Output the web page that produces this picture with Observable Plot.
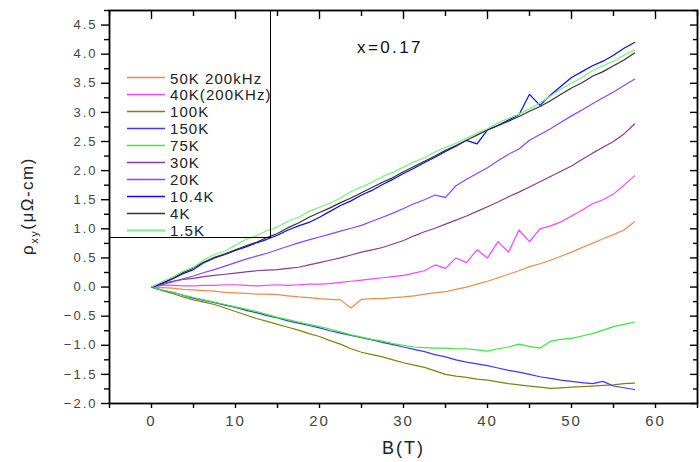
<!DOCTYPE html>
<html><head><meta charset="utf-8">
<script src="https://cdn.jsdelivr.net/npm/d3@7"></script>
<script src="https://cdn.jsdelivr.net/npm/@observablehq/plot@0.6"></script>
<style>
body{margin:0;background:#fff;font-family:"Liberation Sans",Arial,sans-serif;}
#wrap{position:relative;width:700px;height:462px;overflow:hidden;}
#wrap > svg{position:absolute;left:0;top:0;}
.chart g[aria-label="y-axis tick label"] text{letter-spacing:2px;}
.chart g[aria-label="x-axis tick label"] text{letter-spacing:2px;}
#legend{position:absolute;left:109px;top:10px;width:161px;height:227px;border-right:1.3px solid #000;border-bottom:1.3px solid #000;}
#legend .item{position:absolute;left:18px;height:17px;display:flex;align-items:center;font-size:15px;letter-spacing:1.05px;color:#222;white-space:nowrap;transform:translateY(-50%);}
#legend .item svg{position:static;display:block;margin-right:5px;flex:none;}
#ann{position:absolute;left:357px;top:38px;font-size:17px;letter-spacing:2.4px;color:#111;}
#xlab{position:absolute;left:382px;top:438px;font-size:18px;letter-spacing:2px;color:#222;}
#ylab{position:absolute;left:29px;top:206px;transform:translate(-50%,-50%) rotate(-90deg);font-size:17px;letter-spacing:1.5px;color:#222;white-space:nowrap;}
#ylab sub{font-size:11px;}
</style></head><body>
<div id="wrap"></div>
<script>
// Legend order / series names and colours
const seriesNames = ["50K 200kHz","40K(200KHz)","100K","150K","75K","30K","20K","10.4K","4K","1.5K"];
const seriesColors = ["#f08a4c","#ff44ff","#808010","#3a3aff","#3ee83e","#8e3a8e","#8c44ff","#0a0aff","#333333","#7af27a"];

// Magnetic field B (T)
const fieldB = [0,1.25,2.5,3.75,5,6.25,7.5,8.75,10,11.25,12.5,13.75,15,16.25,17.5,18.75,20,21.25,22.5,23.75,25,26.25,27.5,28.75,30,31.25,32.5,33.75,35,36.25,37.5,38.75,40,41.25,42.5,43.75,45,46.25,47.5,48.75,50,51.25,52.5,53.75,55,56.25,57.5];

// rho_xy (µΩ-cm) per series
const rho50K = [0,-0.01,-0.02,-0.04,-0.05,-0.06,-0.07,-0.09,-0.1,-0.11,-0.12,-0.12,-0.13,-0.15,-0.17,-0.18,-0.2,-0.21,-0.22,-0.36,-0.21,-0.2,-0.2,-0.18,-0.17,-0.15,-0.12,-0.1,-0.08,-0.04,0.0,0.05,0.1,0.16,0.22,0.28,0.35,0.4,0.46,0.53,0.6,0.68,0.75,0.83,0.9,0.98,1.12];
const rho40K = [0,0.03,0.03,0.02,0.02,0.03,0.03,0.04,0.04,0.03,0.02,0.03,0.04,0.03,0.04,0.05,0.05,0.06,0.08,0.1,0.12,0.14,0.16,0.18,0.2,0.24,0.28,0.38,0.32,0.5,0.42,0.64,0.5,0.78,0.6,0.98,0.78,1.0,1.05,1.12,1.22,1.32,1.43,1.5,1.6,1.75,1.91];
const rho100K = [0,-0.06,-0.11,-0.17,-0.22,-0.26,-0.3,-0.36,-0.42,-0.48,-0.54,-0.59,-0.64,-0.69,-0.74,-0.8,-0.85,-0.92,-0.98,-1.06,-1.12,-1.16,-1.2,-1.25,-1.3,-1.34,-1.38,-1.44,-1.5,-1.53,-1.55,-1.58,-1.6,-1.63,-1.66,-1.68,-1.7,-1.72,-1.74,-1.73,-1.72,-1.71,-1.7,-1.69,-1.68,-1.66,-1.65];
const rho150K = [0,-0.05,-0.09,-0.14,-0.19,-0.23,-0.27,-0.31,-0.35,-0.4,-0.44,-0.49,-0.53,-0.58,-0.62,-0.66,-0.7,-0.75,-0.79,-0.83,-0.87,-0.91,-0.95,-0.99,-1.03,-1.07,-1.11,-1.16,-1.2,-1.25,-1.29,-1.32,-1.35,-1.39,-1.43,-1.46,-1.5,-1.54,-1.57,-1.6,-1.62,-1.64,-1.66,-1.62,-1.7,-1.73,-1.76];
const rho75K = [0,-0.05,-0.09,-0.14,-0.18,-0.22,-0.26,-0.3,-0.34,-0.38,-0.42,-0.47,-0.52,-0.56,-0.6,-0.64,-0.68,-0.72,-0.77,-0.82,-0.86,-0.9,-0.93,-0.97,-1.0,-1.03,-1.04,-1.05,-1.05,-1.06,-1.06,-1.08,-1.1,-1.06,-1.03,-0.98,-1.02,-1.05,-0.93,-0.9,-0.88,-0.84,-0.8,-0.74,-0.68,-0.64,-0.6];
const rho30K = [0,0.06,0.1,0.13,0.15,0.18,0.2,0.22,0.24,0.26,0.28,0.29,0.3,0.32,0.34,0.38,0.42,0.46,0.5,0.55,0.6,0.64,0.68,0.74,0.8,0.88,0.95,1.01,1.08,1.15,1.22,1.3,1.38,1.46,1.55,1.63,1.72,1.81,1.9,1.99,2.08,2.19,2.3,2.4,2.5,2.63,2.8];
const rho20K = [0,0.04,0.09,0.14,0.19,0.25,0.3,0.36,0.42,0.48,0.53,0.58,0.64,0.7,0.76,0.81,0.86,0.91,0.96,1.01,1.06,1.13,1.2,1.27,1.35,1.43,1.5,1.58,1.54,1.74,1.85,1.95,2.05,2.17,2.28,2.37,2.52,2.62,2.72,2.83,2.94,3.04,3.15,3.25,3.35,3.46,3.57];
const rho10K = [0,0.06,0.14,0.23,0.3,0.42,0.5,0.56,0.63,0.69,0.76,0.82,0.89,0.98,1.05,1.11,1.2,1.3,1.4,1.48,1.58,1.66,1.76,1.85,1.95,2.04,2.14,2.23,2.33,2.42,2.52,2.46,2.7,2.78,2.87,2.96,3.31,3.12,3.3,3.45,3.6,3.7,3.8,3.88,3.98,4.1,4.2];
const rho4K = [0,0.07,0.15,0.25,0.33,0.43,0.51,0.57,0.64,0.71,0.77,0.85,0.92,1.02,1.1,1.2,1.28,1.36,1.45,1.53,1.62,1.71,1.8,1.88,1.98,2.07,2.16,2.25,2.35,2.43,2.52,2.61,2.7,2.77,2.85,2.93,3.02,3.1,3.2,3.31,3.42,3.51,3.62,3.7,3.8,3.9,4.02];
const rho1p5K = [0,0.09,0.17,0.27,0.34,0.47,0.56,0.62,0.72,0.82,0.88,0.97,1.03,1.13,1.2,1.3,1.37,1.44,1.53,1.64,1.72,1.8,1.9,1.97,2.06,2.15,2.22,2.32,2.4,2.47,2.56,2.64,2.72,2.82,2.9,2.97,3.06,3.16,3.28,3.4,3.5,3.6,3.72,3.8,3.88,3.98,4.07];

// Axis ticks
const xTicks = [0,10,20,30,40,50,60];
const xMinorTicks = [-5,5,15,25,35,45,55,65];
const yTicks = [-2.0,-1.5,-1.0,-0.5,0.0,0.5,1.0,1.5,2.0,2.5,3.0,3.5,4.0,4.5];
const yMinorTicks = [-1.75,-1.25,-0.75,-0.25,0.25,0.75,1.25,1.75,2.25,2.75,3.25,3.75,4.25,4.75];

const seriesValues = [rho50K,rho40K,rho100K,rho150K,rho75K,rho30K,rho20K,rho10K,rho4K,rho1p5K];
const rows = [];
seriesNames.forEach((name,i)=>{
  seriesValues[i].forEach((v,j)=>rows.push({series:name,B:fieldB[j],rho:v}));
});

const font = '"Liberation Sans", Arial, sans-serif';
const chart = Plot.plot({
  width:700, height:462,
  marginLeft:109, marginRight:3, marginTop:10, marginBottom:59,
  className:"chart",
  style:{fontFamily:font, background:"transparent"},
  x:{domain:[-5,65]},
  y:{domain:[-2,4.75]},
  color:{domain:seriesNames, range:seriesColors},
  marks:[
    Plot.line(rows,{x:"B", y:"rho", z:"series", stroke:"series", strokeWidth:1.2, curve:"linear"}),
    Plot.axisY({anchor:"left", ticks:yTicks, tickSize:8, tickPadding:4, tickFormat:d3.format(".1f"), label:null, fontSize:13, fill:"#444", stroke:"#000", strokeWidth:1.4}),
    Plot.axisY({anchor:"left", ticks:yMinorTicks, tickSize:5, tickFormat:()=>"", label:null, strokeWidth:1.4}),
    Plot.axisY({anchor:"right", ticks:yTicks, tickSize:-8, tickFormat:()=>"", label:null, strokeWidth:1.4}),
    Plot.axisY({anchor:"right", ticks:yMinorTicks, tickSize:-5, tickFormat:()=>"", label:null, strokeWidth:1.4}),
    Plot.axisX({anchor:"bottom", ticks:xTicks, tickSize:5, tickPadding:7, label:null, fontSize:15, fill:"#444", strokeWidth:1.4}),
    Plot.axisX({anchor:"bottom", ticks:xMinorTicks, tickSize:5, tickFormat:()=>"", label:null, strokeWidth:1.4}),
    Plot.axisX({anchor:"top", ticks:xTicks, tickSize:-8, tickFormat:()=>"", label:null, strokeWidth:1.4}),
    Plot.axisX({anchor:"top", ticks:xMinorTicks, tickSize:-5, tickFormat:()=>"", label:null, strokeWidth:1.4}),
    Plot.frame({stroke:"#000", strokeWidth:1.8})
  ]
});
const wrap = document.getElementById("wrap");
wrap.appendChild(chart);

// Legend box
const legend = document.createElement("div");
legend.id = "legend";
const legendTop = 67.5; // first entry centre relative to box top (px)
seriesNames.forEach((name,i)=>{
  const it = document.createElement("div");
  it.className = "item";
  it.style.top = (legendTop + i*16.95) + "px";
  const sw = d3.create("svg").attr("width",38).attr("height",4);
  sw.append("line").attr("x1",0).attr("x2",38).attr("y1",2).attr("y2",2)
    .attr("stroke",seriesColors[i]).attr("stroke-width", i===9 ? 2.2 : 1.4);
  it.appendChild(sw.node());
  const t = document.createElement("span");
  t.textContent = name;
  it.appendChild(t);
  legend.appendChild(it);
});
wrap.appendChild(legend);

const ann = document.createElement("div");
ann.id = "ann"; ann.textContent = "x=0.17";
wrap.appendChild(ann);

const xl = document.createElement("div");
xl.id = "xlab"; xl.textContent = "B(T)";
wrap.appendChild(xl);

const yl = document.createElement("div");
yl.id = "ylab"; yl.innerHTML = "ρ<sub>xy</sub>(μΩ-cm)";
wrap.appendChild(yl);
</script>
</body></html>
